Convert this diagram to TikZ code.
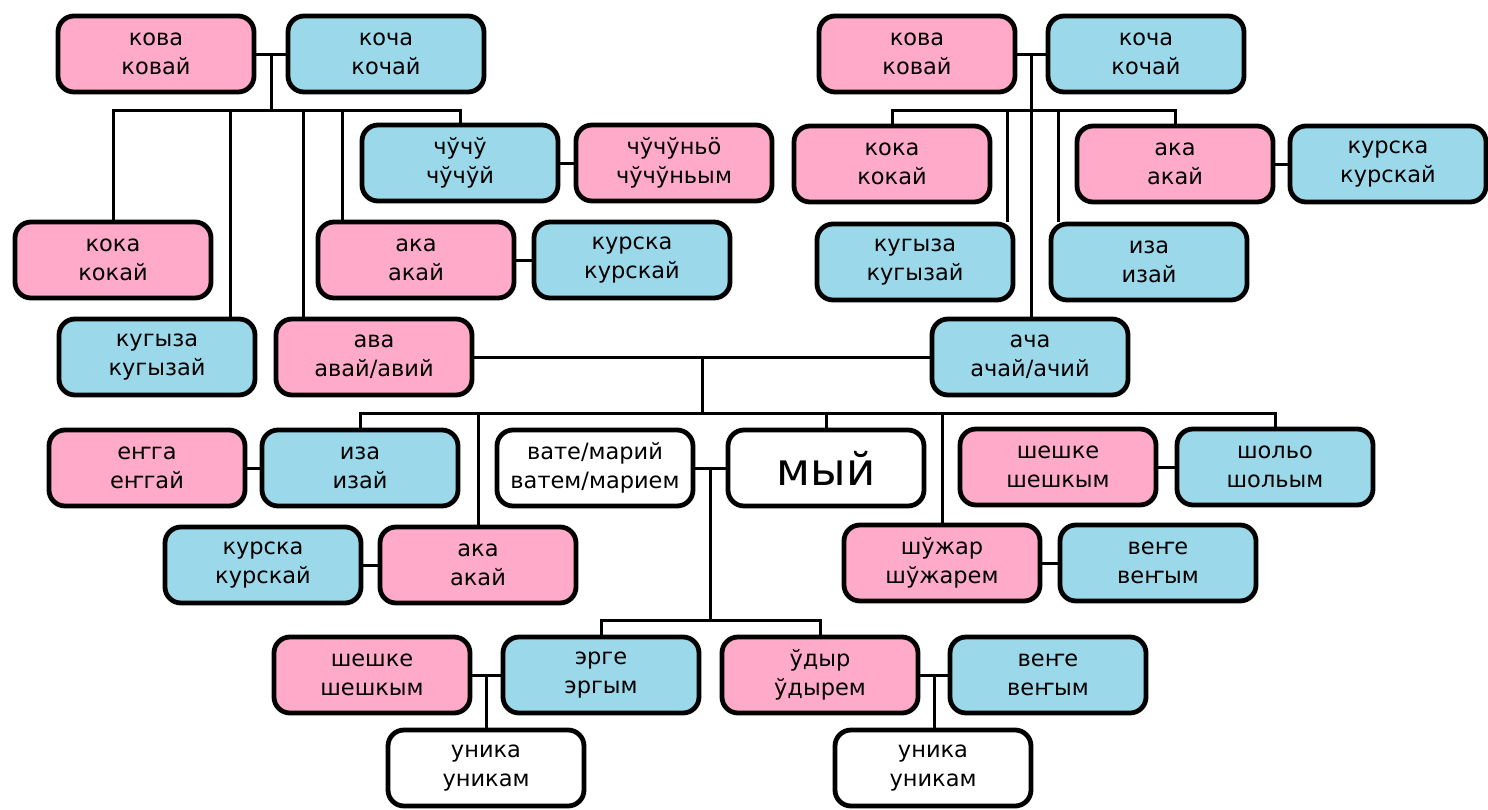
\documentclass[tikz,border=0pt]{standalone}
\usepackage{fontspec}
\setmainfont{DejaVu Sans}
\usetikzlibrary{calc}
\definecolor{pinkbox}{HTML}{FFAAC8}
\definecolor{bluebox}{HTML}{9BD9EA}
\begin{document}
\begin{tikzpicture}[x=1pt,y=-1pt,
  kin/.style={draw=black, line width=4.8pt, rounded corners=16pt, minimum width=196pt, minimum height=76pt,
    align=center, inner sep=0pt, font=\fontsize{22.5pt}{29pt}\selectfont},
  fem/.style={kin, fill=pinkbox},
  mal/.style={kin, fill=bluebox},
  neu/.style={kin, fill=white},
  link/.style={draw=black, line width=3pt}]
\useasboundingbox (0,0) rectangle (1488,809);
% top left
\node[fem] (A1) at (156,54) {кова\\ковай};
\node[mal] (A2) at (386,54) {коча\\кочай};
\node[mal] (A3) at (460,163) {чўчў\\чўчўй};
\node[fem] (A4) at (674,163) {чўчўньӧ\\чўчўньым};
\node[fem] (A5) at (113,260) {кока\\кокай};
\node[fem] (A6) at (416,260) {ака\\акай};
\node[mal] (A7) at (632,260) {курска\\курскай};
\node[mal] (A8) at (157,357) {кугыза\\кугызай};
\node[fem] (A9) at (374,357) {ава\\авай/авий};
% top right
\node[fem] (B1) at (917,54) {кова\\ковай};
\node[mal] (B2) at (1146,54) {коча\\кочай};
\node[fem] (B3) at (892,164) {кока\\кокай};
\node[fem] (B4) at (1175,164) {ака\\акай};
\node[mal] (B5) at (1388,164) {курска\\курскай};
\node[mal] (B6) at (915,262) {кугыза\\кугызай};
\node[mal] (B7) at (1149,262) {иза\\изай};
\node[mal] (B8) at (1030,357) {ача\\ачай/ачий};
% row 4
\node[fem] (C1) at (147,468) {еҥга\\еҥгай};
\node[mal] (C2) at (360,468) {иза\\изай};
\node[neu] (C3) at (595,468) {вате/марий\\ватем/марием};
\node[neu, font=\fontsize{45pt}{46pt}\selectfont] (C4) at (826,468) {мый};
\node[fem] (C5) at (1058,467) {шешке\\шешкым};
\node[mal] (C6) at (1275,467) {шольо\\шольым};
% row 5
\node[mal] (D1) at (263,565) {курска\\курскай};
\node[fem] (D2) at (478,565) {ака\\акай};
\node[fem] (D3) at (942,563) {шўжар\\шўжарем};
\node[mal] (D4) at (1158,563) {веҥе\\веҥым};
% row 6
\node[fem] (E1) at (372,675) {шешке\\шешкым};
\node[mal] (E2) at (601,675) {эрге\\эргым};
\node[neu] (E3) at (486,768) {уника\\уникам};
\node[fem] (E4) at (820,675) {ўдыр\\ўдырем};
\node[mal] (E5) at (1048,675) {веҥе\\веҥым};
\node[neu] (E6) at (933,768) {уника\\уникам};

% top left connectors
\draw[link] (A1.east) -- (A2.west);
\coordinate (tl) at ($(A1.east)!0.5!(A2.west)$);
\path (tl) ++(0,56) coordinate (barTL);
\draw[link] (tl) -- (barTL);
\draw[link] (barTL) -| (A5.north);
\draw[link] (barTL) -| ([xshift=73pt]A8.north);
\draw[link] (barTL) -| ([xshift=-71pt]A9.north);
\draw[link] (barTL) -| ([xshift=-74pt]A6.north);
\draw[link] (barTL) -| (A3.north);
\draw[link] (A3.east) -- (A4.west);
\draw[link] (A6.east) -- (A7.west);
% top right connectors
\draw[link] (B1.east) -- (B2.west);
\coordinate (tr) at ($(B1.east)!0.5!(B2.west)$);
\path (tr) ++(0,56) coordinate (barTR);
\draw[link] (tr) -- (tr |- B8.north);
\draw[link] (barTR) -| (B3.north);
\draw[link] (barTR) -| (B4.north);
\draw[link] (barTR) -| ([xshift=92pt]B6.north);
\draw[link] (barTR) -| ([xshift=-91pt]B7.north);
\draw[link] (B4.east) -- (B5.west);
% middle
\draw[link] (A9.east) -- (B8.west);
\coordinate (m) at ($(A9.east)!0.5!(B8.west)$);
\path (m) ++(0,56) coordinate (barM);
\draw[link] (m) -- (barM);
\draw[link] (barM) -| (C2.north);
\draw[link] (barM) -| (D2.north);
\draw[link] (barM) -| (C4.north);
\draw[link] (barM) -| (D3.north);
\draw[link] (barM) -| (C6.north);
% row 4
\draw[link] (C1.east) -- (C2.west);
\draw[link] (C3.east) -- (C4.west);
\draw[link] (C5.east) -- (C6.west);
\coordinate (me) at ($(C3.east)!0.5!(C4.west)$);
\path (me) ++(0,152) coordinate (barB);
\draw[link] (me) -- (barB);
\draw[link] (barB) -| (E2.north);
\draw[link] (barB) -| (E4.north);
% row 5
\draw[link] (D1.east) -- (D2.west);
\draw[link] (D3.east) -- (D4.west);
% row 6
\draw[link] (E1.east) -- (E2.west);
\coordinate (e12) at ($(E1.east)!0.5!(E2.west)$);
\draw[link] (e12) -- (e12 |- E3.north);
\draw[link] (E4.east) -- (E5.west);
\coordinate (e45) at ($(E4.east)!0.5!(E5.west)$);
\draw[link] (e45) -- (e45 |- E6.north);
\end{tikzpicture}
\end{document}
